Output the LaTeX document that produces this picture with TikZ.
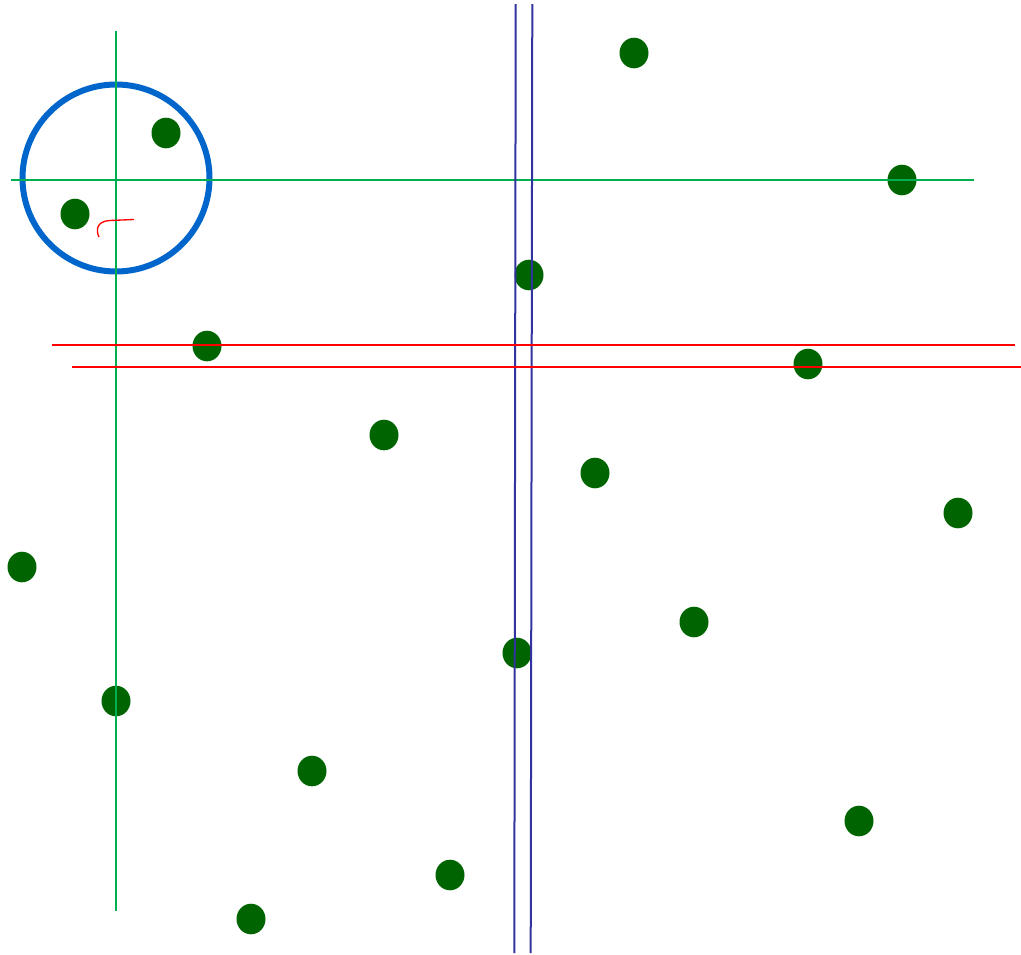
\documentclass[tikz,border=0pt]{standalone}
\begin{document}
\begin{tikzpicture}[x=0.75pt,y=-0.75pt,
  dot/.style={fill={rgb,255:red,0;green,100;blue,0}, draw=none},
  gline/.style={draw={rgb,255:red,0;green,176;blue,80}, line width=1.5pt},
  rline/.style={draw=red, line width=1.5pt},
  bline/.style={draw={rgb,255:red,51;green,51;blue,160}, line width=1.5pt},
  ring/.style={draw={rgb,255:red,0;green,102;blue,204}, line width=4.5pt}]
\useasboundingbox (0,0) rectangle (1021,954);
% dots
\foreach \x/\y [count=\i] in {634/53,166/133,902/180,75/214,529/275,207/346,808/364,384/435,595/473,958/513,22/567,694/622,517/653,116/701,312/771,859/821,450/875,251/919}
  \fill[dot] (\x,\y) ellipse [x radius=14.5, y radius=15.3];
% circle
\node[ring, circle, minimum size=187*0.75pt, inner sep=0pt] (c) at (116,178) {};
% green lines
\coordinate (gv1) at (116,31); \coordinate (gv2) at (116,911);
\coordinate (gh1) at (11,180); \coordinate (gh2) at (974,180);
\draw[gline] (gv1) -- (gv2);
\draw[gline] (gh1) -- (gh2);
% blue lines
\coordinate (b1t) at (515.7,4); \coordinate (b1b) at (514.3,953);
\coordinate (b2t) at (532.3,4); \coordinate (b2b) at (530.7,953);
\draw[bline] (b1t) -- (b1b);
\draw[bline] (b2t) -- (b2b);
% red lines
\coordinate (r1a) at (52,345); \coordinate (r1b) at (1015,345);
\coordinate (r2a) at (72,367); \coordinate (r2b) at (1021,367);
\draw[rline] (r1a) -- (r1b);
\draw[rline] (r2a) -- (r2b);
% red hook
\coordinate (h1) at (134,219.5); \coordinate (h2) at (99,237);
\draw[draw=red, line width=1pt] (h1) -- (110,220.5) .. controls (96,221) and (96,231) .. (h2);
\end{tikzpicture}
\end{document}
